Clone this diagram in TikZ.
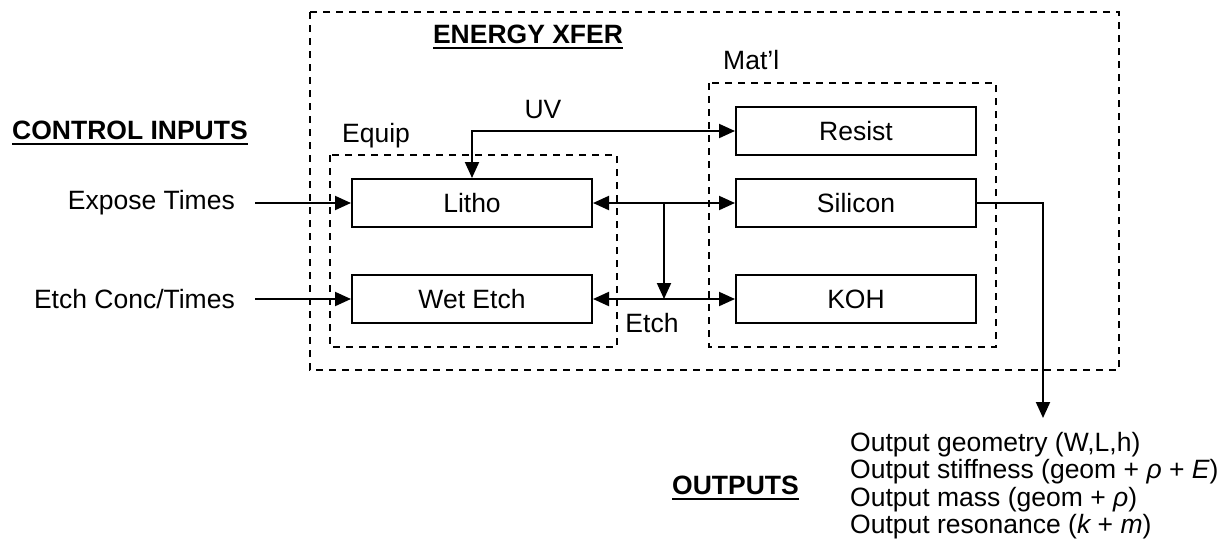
\documentclass[tikz,border=0pt]{standalone}
\usepackage{fontspec}
\setmainfont{Liberation Sans}
\newcommand\myul[1]{\leavevmode\vtop{\hbox{#1}\kern3pt\hrule height 2pt}}
\usetikzlibrary{arrows.meta,calc}
\begin{document}
\begin{tikzpicture}[x=1pt,y=-1pt,
  font=\fontsize{26.5}{29}\selectfont,
  blk/.style={draw,line width=2pt,minimum width=240pt,minimum height=48pt,inner sep=0pt},
  grp/.style={draw,line width=1.6pt,dash pattern=on 7pt off 6pt},
  conn/.style={line width=2pt,-{Triangle[length=16pt,width=14pt]}},
  dconn/.style={line width=2pt,{Triangle[length=16pt,width=14pt]}-{Triangle[length=16pt,width=14pt]}},
  lbl/.style={inner sep=0pt}
]
\useasboundingbox (0,0) rectangle (1230,555);
% group boxes
\draw[grp] (310,12) rectangle (1119,370);
\draw[grp] (330,155) rectangle (617,347);
\draw[grp] (709,83) rectangle (996,347);
% titles
\node[lbl] (energy) at (528,37) {\myul{\bfseries ENERGY XFER}};
\node[lbl,anchor=west] (equip) at (342,136) {Equip};
\node[lbl,anchor=west] (matl) at (723,60) {Mat’l};
\node[lbl,anchor=west] (ctrl) at (12,133) {\myul{\bfseries CONTROL INPUTS}};
\node[lbl,anchor=east] (outs) at (799,488) {\myul{\bfseries OUTPUTS}};
% blocks
\node[blk] (litho) at (472,203) {Litho};
\node[blk] (wet) at (472,299) {Wet Etch};
\node[blk] (resist) at (856,131) {Resist};
\node[blk] (si) at (856,203) {Silicon};
\node[blk] (koh) at (856,299) {KOH};
% inputs
\node[lbl,anchor=east] (expose) at (235,203) {Expose Times};
\node[lbl,anchor=east] (etchc) at (235,299) {Etch Conc/Times};
\draw[conn] ($(expose.east)+(20,0)$) -- (litho.west);
\draw[conn] ($(etchc.east)+(20,0)$) -- (wet.west);
% UV
\draw[dconn] (litho.north) |- (resist.west);
\node[lbl] (uv) at (543,110) {UV};
% etch bus
\draw[dconn] (litho.east) -- (si.west);
\draw[dconn] (wet.east) -- (koh.west);
\coordinate (j1) at ($(litho.east)!0.5!(si.west)$);
\draw[conn] (j1) -- (j1 |- wet.east);
\node[lbl] (etch) at (652,323) {Etch};
% output
\node[lbl,anchor=north west,align=left,font=\fontsize{26.5}{27.5}\selectfont] (out) at (850,432)
{Output geometry (W,L,h)\\
Output stiffness (geom + {\itshape ρ} + {\itshape E})\\
Output mass (geom + {\itshape ρ})\\
Output resonance ({\itshape k} + {\itshape m})};
\coordinate (c1) at (1043,203);
\coordinate (c2) at (1043,418);
\draw[conn] (si.east) -- (c1) -- (c2);
\end{tikzpicture}
\end{document}
